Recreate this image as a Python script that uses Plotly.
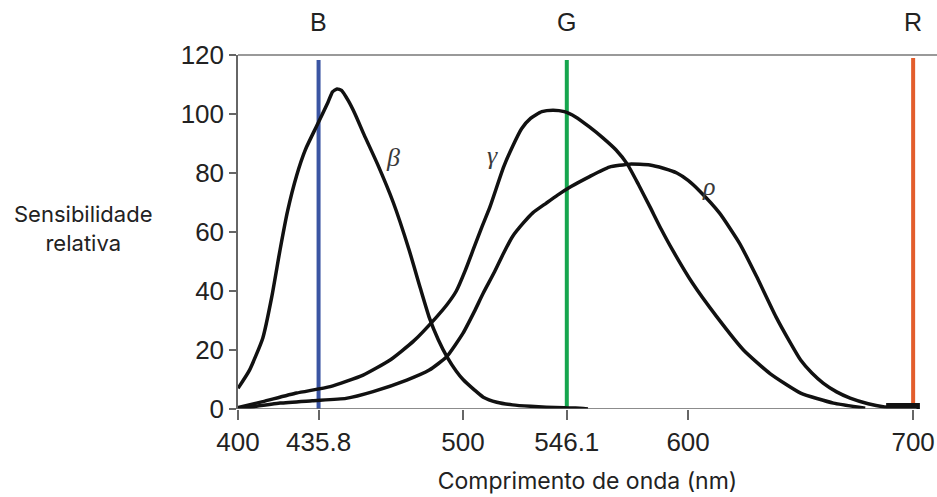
import plotly.graph_objects as go

# --- data ---
beta_x = [400, 405, 411, 415, 418.7, 422, 426, 430, 435, 440, 442, 444, 446, 449, 452, 456, 462, 469, 476, 481,
          485, 489, 493, 497, 500, 505, 509, 515, 522, 530, 537, 545, 550, 555.5]
beta_y = [7, 13, 24, 38, 54, 67, 79, 88, 96, 104, 107.5, 108.5, 108, 104.5, 100, 93, 83, 70, 54, 41,
          31, 23.5, 17.5, 12.8, 10, 6.5, 4, 2.3, 1.4, 0.9, 0.6, 0.4, 0.3, 0]

gamma_x = [400, 411, 426, 441, 455.6, 467.6, 478, 488, 493, 497, 501, 504.5, 508, 512, 518, 522, 526, 530, 535,
           540, 545, 550, 556, 562, 568, 573, 578, 583, 588, 593, 602, 612.7, 624.6, 636.4, 650, 664.6, 678.7]
gamma_y = [0.5, 2.5, 5.4, 7.6, 11.5, 16.6, 23, 31, 35.5, 40, 47, 54, 61, 68.6, 82, 89, 95, 98.5, 100.8,
           101.3, 100.8, 99, 95.7, 92, 87.8, 83, 76, 68.6, 61, 54, 42.6, 31.3, 20, 12, 5.4, 2, 0.3]

rho_x = [400, 418.7, 433, 448, 460, 475, 485, 492.7, 500, 505, 509, 514, 518, 522, 526.7, 531, 537, 542, 548, 556,
         565, 574, 583, 589, 595, 600, 605, 614, 623, 630.5, 639, 645, 650, 655, 660, 666, 672, 680, 686.7, 698.7]
rho_y = [0, 2, 2.8, 3.6, 5.9, 9.8, 13.2, 17.7, 25.7, 33, 39.3, 46.5, 52.8, 58.5, 63, 66.5, 69.8, 72.5, 75.4, 78.7,
         82, 83, 82.7, 81.6, 80, 77.5, 74, 66.4, 56, 44.8, 31.3, 23, 16.6, 12.2, 8.8, 5.8, 3.7, 1.8, 0.8, 0.3]

tail_x = [688, 703]
tail_y = [0.5, 0.5]

primary_names = ["B", "G", "R"]
primary_wl = [435.8, 546.1, 700]
primary_top = [118.3, 118.3, 119]
primary_colors = ["#3b55a3", "#16a64e", "#e35d2c"]

curve_labels = ["\u03b2", "\u03b3", "\u03c1"]
curve_label_x = [468.9, 513.3, 608.9]
curve_label_y = [85.4, 86, 75.3]

x_ticks = [400, 435.8, 500, 546.1, 600, 700]
x_ticktext = ["400", "435.8", "500", "546.1", "600", "700"]
y_ticks = [0, 20, 40, 60, 80, 100, 120]

fig = go.Figure()

for wl, top, col in zip(primary_wl, primary_top, primary_colors):
    fig.add_trace(go.Scatter(x=[wl, wl], y=[0, top], mode="lines",
                             line=dict(color=col, width=4), hoverinfo="skip", cliponaxis=False))

for xs, ys in [(beta_x, beta_y), (gamma_x, gamma_y), (rho_x, rho_y)]:
    fig.add_trace(go.Scatter(x=xs, y=ys, mode="lines",
                             line=dict(color="#111111", width=3.5, shape="spline", smoothing=0.5),
                             cliponaxis=False, hoverinfo="skip"))

fig.add_trace(go.Scatter(x=tail_x, y=tail_y, mode="lines", line=dict(color="#111111", width=9),
                         cliponaxis=False, hoverinfo="skip"))

# primary labels on top
for name, wl in zip(primary_names, primary_wl):
    fig.add_annotation(x=wl, y=1, xref="x", yref="paper", yanchor="middle", yshift=33, text=name,
                       showarrow=False, font=dict(family="Liberation Sans", size=25, color="#222222"))

# curve labels
for t, lx, ly in zip(curve_labels, curve_label_x, curve_label_y):
    fig.add_annotation(x=lx, y=ly, text="<i>" + t + "</i>", showarrow=False,
                       font=dict(family="Liberation Serif", size=26, color="#3a3a3a"))

# y title
fig.add_annotation(xref="paper", yref="paper", x=(83 - 238) / 699, y=(409 - 228) / 354,
                   xanchor="center", yanchor="middle", text="Sensibilidade<br>relativa",
                   showarrow=False, font=dict(family="Inter", size=22, color="#222222"))

# axis lines
fig.add_shape(type="line", x0=400, x1=701.5, y0=0, y1=0, xref="x", yref="y",
              line=dict(color="#666666", width=1.5))
fig.add_shape(type="line", x0=0, x1=1, y0=1, y1=1, xref="paper", yref="paper",
              line=dict(color="#777777", width=1.5))

fig.update_layout(
    width=937, height=497,
    margin=dict(l=238, r=0, t=55, b=88),
    plot_bgcolor="white", paper_bgcolor="white",
    showlegend=False,
    xaxis=dict(range=[400, 710.6], tickvals=x_ticks, ticktext=x_ticktext, showgrid=False, zeroline=False,
               showline=False, ticks="outside", ticklen=10, tickwidth=1.5, tickcolor="#666666",
               tickfont=dict(family="Liberation Sans", size=26, color="#222222"),
               title=dict(text="Comprimento de onda (nm)", font=dict(family="Inter", size=23, color="#222222"),
                          standoff=16)),
    yaxis=dict(range=[0, 120], tickvals=y_ticks, showgrid=False, zeroline=False,
               showline=True, linecolor="#666666", linewidth=1.5,
               ticks="outside", ticklen=7, tickwidth=1.5, tickcolor="#666666",
               tickfont=dict(family="Liberation Sans", size=26, color="#222222")),
)

fig.write_html("out.html")
